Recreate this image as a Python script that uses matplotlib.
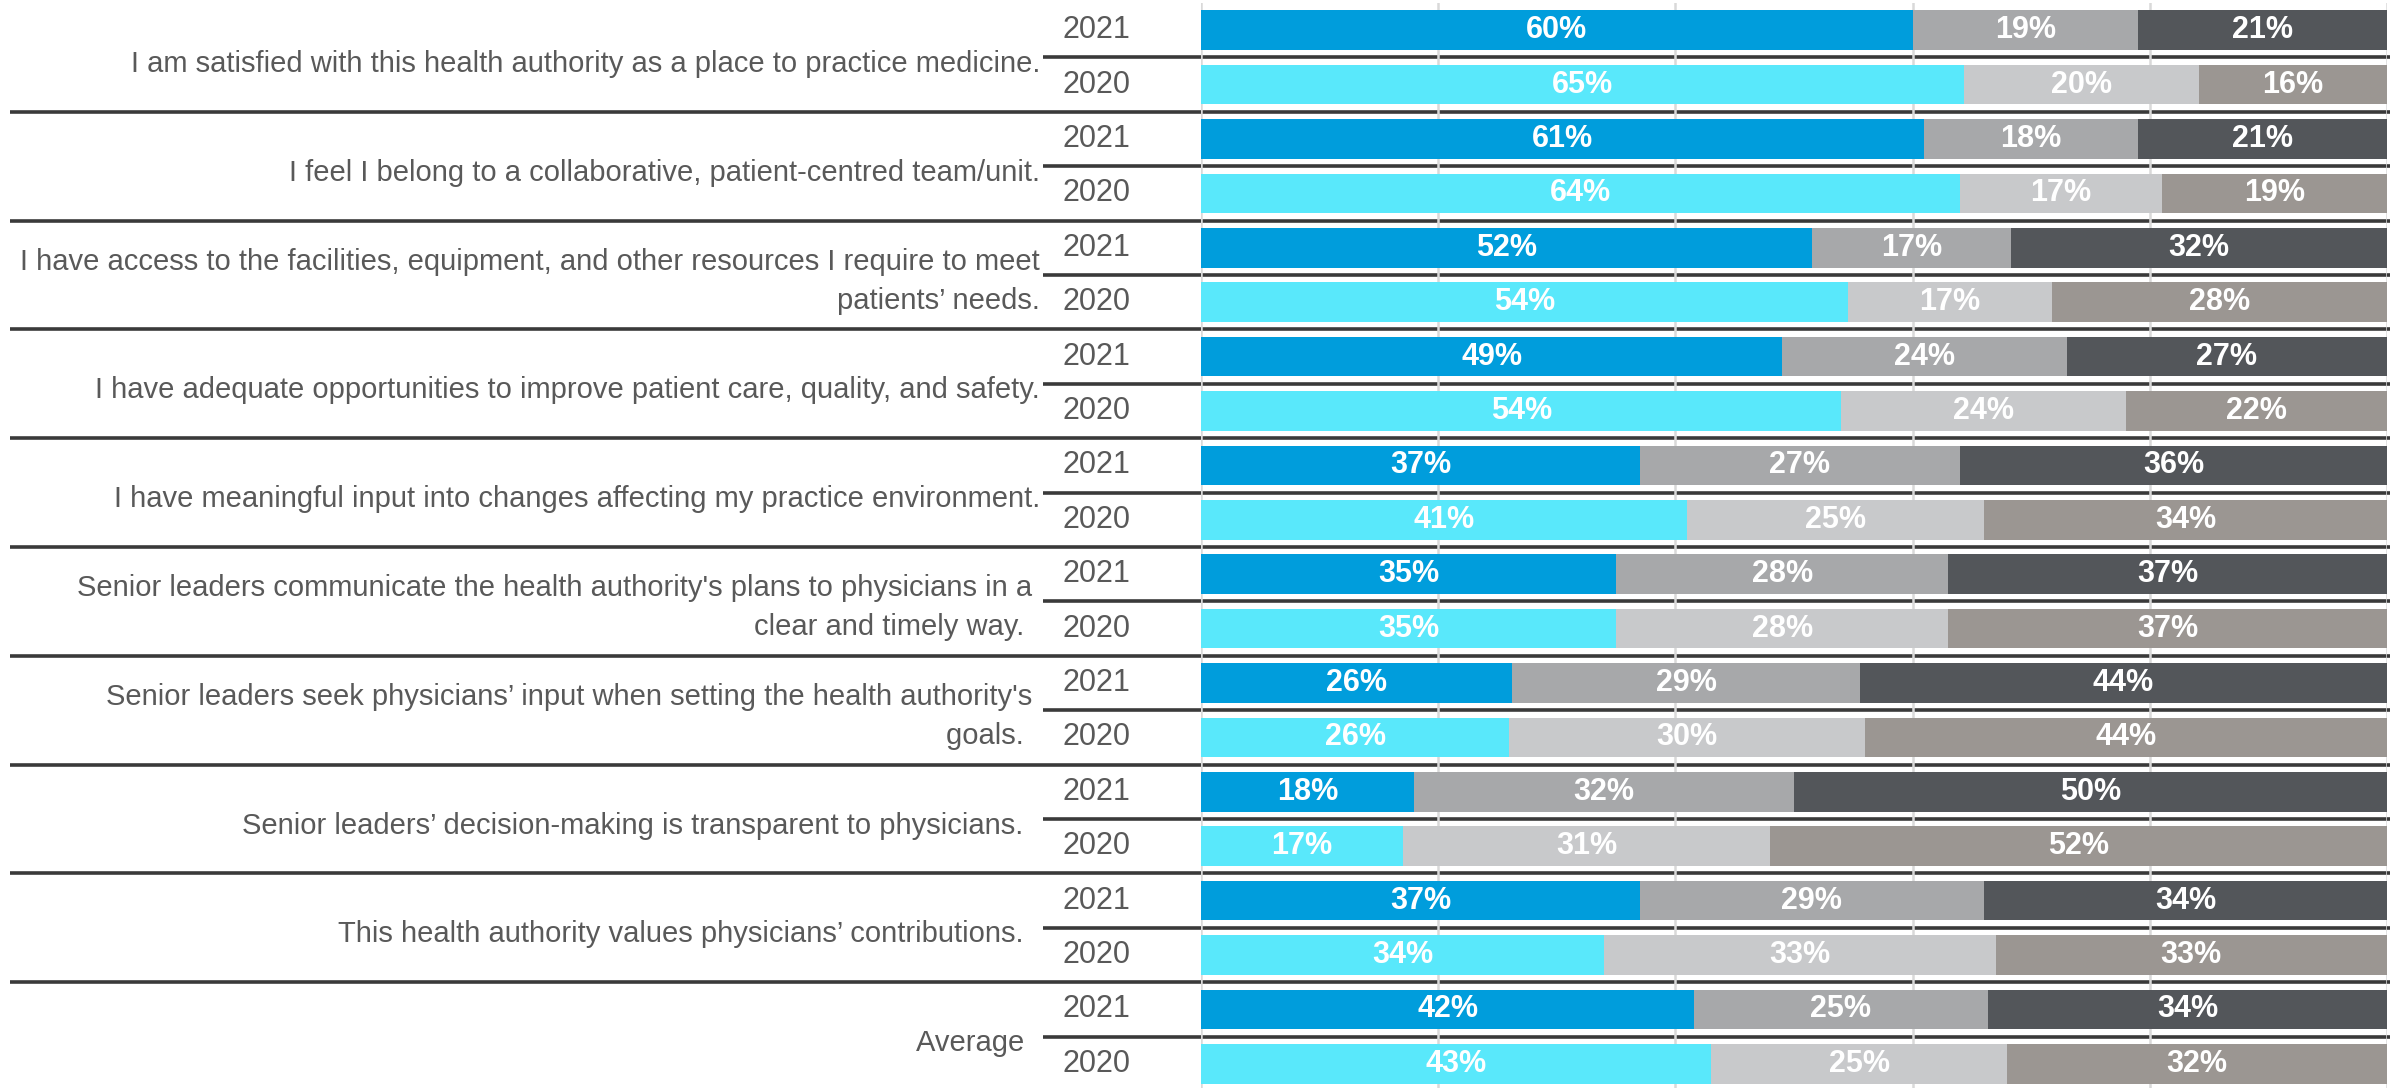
import matplotlib
matplotlib.use("Agg")
import matplotlib.pyplot as plt
import matplotlib.transforms as mtransforms
import numpy as np

plt.rcParams['font.family'] = ['Liberation Sans', 'DejaVu Sans']

questions = [
    "I am satisfied with this health authority as a place to practice medicine.",
    "I feel I belong to a collaborative, patient-centred team/unit.",
    "I have access to the facilities, equipment, and other resources I require to meet\npatients\u2019 needs.",
    "I have adequate opportunities to improve patient care, quality, and safety.",
    "I have meaningful input into changes affecting my practice environment.",
    "Senior leaders communicate the health authority's plans to physicians in a \nclear and timely way.  ",
    "Senior leaders seek physicians\u2019 input when setting the health authority's \ngoals.  ",
    "Senior leaders\u2019 decision-making is transparent to physicians.  ",
    "This health authority values physicians\u2019 contributions.  ",
    "Average  ",
]
years = ["2021", "2020"]

# segment values per question: [positive, neutral, negative]
vals_2021 = [
    [60, 19, 21], [61, 18, 21], [52, 17, 32], [49, 24, 27], [37, 27, 36],
    [35, 28, 37], [26, 29, 44], [18, 32, 50], [37, 29, 34], [42, 25, 34],
]
vals_2020 = [
    [65, 20, 16], [64, 17, 19], [54, 17, 28], [54, 24, 22], [41, 25, 34],
    [35, 28, 37], [26, 30, 44], [17, 31, 52], [34, 33, 33], [43, 25, 32],
]

colors_2021 = ["#009DDC", "#A7A8AA", "#53565A"]
colors_2020 = ["#59E8FB", "#C8C9CB", "#9B9692"]

W, H = 2390, 1088
fig = plt.figure(figsize=(W / 100, H / 100), dpi=100)
ax = fig.add_axes([1201 / W, -3 / H, 1186 / W, 1.0])

n = len(questions)
rows = []
for i in range(n):
    rows.append((2 * i, vals_2021[i], colors_2021))
    rows.append((2 * i + 1, vals_2020[i], colors_2020))

bar_h = 0.73
for y, v, cols in rows:
    v = np.array(v, dtype=float)
    widths = v / v.sum() * 100
    left = 0.0
    for w, lab, c in zip(widths, v, cols):
        ax.barh(y, w, left=left, height=bar_h, color=c, zorder=2)
        ax.text(left + w / 2, y, f"{int(lab)}%", ha="center", va="center",
                color="white", fontsize=22, fontweight="bold", zorder=3)
        left += w

ax.set_xlim(0, 100)
ax.set_ylim(2 * n - 0.5, -0.5)
ax.set_xticks([0, 20, 40, 60, 80, 100])
ax.set_yticks([])
ax.tick_params(axis="x", length=0, labelbottom=False)
ax.grid(axis="x", color="#D9D9D9", lw=1.8, zorder=0.6)
ax.set_axisbelow(True)
for s in ax.spines.values():
    s.set_visible(False)

trans = mtransforms.blended_transform_factory(fig.transFigure, ax.transData)
line_c = "#3A3A3A"
for i in range(n):
    # within-group separator
    ax.plot([1043 / W, 1.0], [2 * i + 0.5, 2 * i + 0.5], transform=trans,
            color=line_c, lw=2.6, clip_on=False, zorder=0.4, solid_capstyle="butt")
    if i < n - 1:
        ax.plot([10 / W, 1.0], [2 * i + 1.5, 2 * i + 1.5], transform=trans,
                color=line_c, lw=2.6, clip_on=False, zorder=0.4, solid_capstyle="butt")
    ax.text(1040 / W, 2 * i + 0.62, questions[i], transform=trans, ha="right",
            va="center", fontsize=21, color="#595959", linespacing=1.5)
    for k, yr in enumerate(years):
        ax.text(1096 / W, 2 * i + k, yr, transform=trans, ha="center",
                va="center", fontsize=22, color="#595959")

fig.savefig("out.png", dpi=100, facecolor="white")
